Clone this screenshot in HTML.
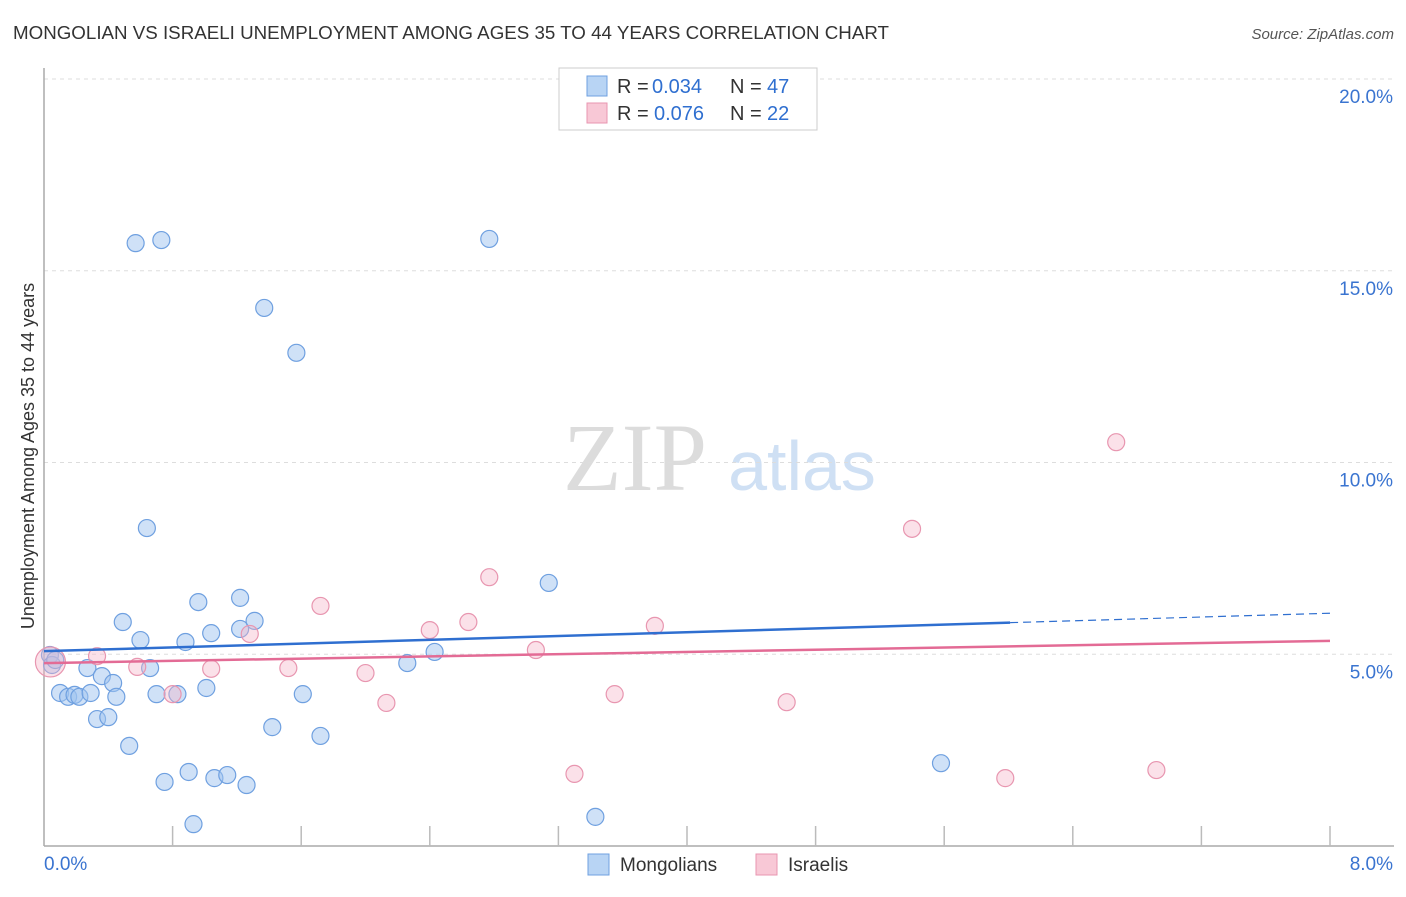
<!DOCTYPE html>
<html><head><meta charset="utf-8"><style>
body{margin:0;background:#fff;font-family:"Liberation Sans",sans-serif}
</style></head><body>
<svg id="chart" width="1406" height="892" viewBox="0 0 1406 892" xmlns="http://www.w3.org/2000/svg" font-family="Liberation Sans, sans-serif">
<text x="13" y="39" font-size="18" fill="#333" textLength="876" lengthAdjust="spacingAndGlyphs">MONGOLIAN VS ISRAELI UNEMPLOYMENT AMONG AGES 35 TO 44 YEARS CORRELATION CHART</text>
<text x="1394" y="39" font-size="15" fill="#555" text-anchor="end" font-style="italic">Source: ZipAtlas.com</text>
<g>
<text x="635" y="490" font-size="96" fill="#dcdcdc" text-anchor="middle" style="font-family:'Liberation Serif',serif">ZIP</text>
<text x="802" y="490" font-size="70" fill="#cfe0f4" text-anchor="middle">atlas</text>
</g>
<g id="grid"></g>
<g id="axes"></g>
<g id="marks"></g>
<text transform="translate(34,456) rotate(-90)" font-size="18" fill="#333" text-anchor="middle">Unemployment Among Ages 35 to 44 years</text>
<g>
<rect x="559" y="68" width="258" height="62" fill="#fff" stroke="#ccc"/>
<rect x="587" y="76" width="20" height="20" fill="#b8d4f4" stroke="#6fa0e0"/>
<text x="617" y="93" font-size="20" fill="#333">R =</text>
<text x="652" y="93" font-size="20" fill="#2f6fd0">0.034</text>
<text x="730" y="93" font-size="20" fill="#333">N =</text>
<text x="767" y="93" font-size="20" fill="#2f6fd0">47</text>
<rect x="587" y="103" width="20" height="20" fill="#f8c8d6" stroke="#e896b0"/>
<text x="617" y="120" font-size="20" fill="#333">R =</text>
<text x="654" y="120" font-size="20" fill="#2f6fd0">0.076</text>
<text x="730" y="120" font-size="20" fill="#333">N =</text>
<text x="767" y="120" font-size="20" fill="#2f6fd0">22</text>
</g>
<g>
<rect x="588" y="854" width="21" height="21" fill="#b8d4f4" stroke="#6fa0e0"/>
<text x="620" y="871" font-size="19" fill="#333">Mongolians</text>
<rect x="756" y="854" width="21" height="21" fill="#f8c8d6" stroke="#e896b0"/>
<text x="788" y="871" font-size="19" fill="#333">Israelis</text>
</g>
</svg>
<script>
const blueX=[0.037,0.05,0.10,0.15,0.19,0.22,0.29,0.27,0.33,0.36,0.40,0.43,0.45,0.49,0.53,0.60,0.64,0.66,0.70,0.75,0.83,0.88,0.90,0.93,0.96,1.01,1.04,1.06,1.14,1.22,1.22,1.26,1.31,1.37,1.42,1.57,1.61,1.72,0.57,0.73,2.26,2.43,2.77,3.14,3.43,5.58,0.07];
const blueY=[4.98,4.72,3.99,3.89,3.94,3.89,3.99,4.64,3.31,4.43,3.36,4.25,3.89,5.84,2.61,5.37,8.29,4.64,3.96,1.67,3.96,5.32,1.93,0.57,6.36,4.12,5.55,1.77,1.85,6.47,5.66,1.59,5.87,14.03,3.10,12.86,3.96,2.87,15.72,15.80,4.77,5.06,15.83,6.86,0.76,2.16,4.85];
const pinkX=[0.04,0.33,0.58,0.80,1.04,1.28,1.52,1.72,2.00,2.13,2.40,2.64,2.77,3.06,3.30,3.55,3.80,4.62,5.40,5.98,6.67,6.92];
const pinkY=[4.80,4.95,4.67,3.96,4.62,5.53,4.64,6.26,4.51,3.73,5.63,5.84,7.01,5.11,1.88,3.96,5.74,3.75,8.27,1.77,10.53,1.98];
const blueTrend=[5.08,6.07];
const pinkTrend=[4.77,5.35];
const yTicks=[5,10,15,20];
const yTickLabels=["5.0%","10.0%","15.0%","20.0%"];
const xTicks=[0,0.8,1.6,2.4,3.2,4.0,4.8,5.6,6.4,7.2,8.0];
const NS="http://www.w3.org/2000/svg";
const X=v=>44+v/8*1286, Y=v=>846-v*38.35;
function mk(tag,attrs,parent){const e=document.createElementNS(NS,tag);for(const k in attrs)e.setAttribute(k,attrs[k]);document.getElementById(parent).appendChild(e);return e;}
yTicks.forEach((t,i)=>{
 const g=mk('line',{x1:44,x2:1394,y1:Y(t),y2:Y(t),stroke:'#ddd','stroke-dasharray':'4,4'},'grid');
 
 
 const l=mk('text',{x:1393,y:Y(t)+24,'font-size':19,fill:'#3a74d0','text-anchor':'end'},'grid');
 l.textContent=yTickLabels[i];
 
 
});
const ax=mk('line',{x1:44,x2:44,y1:68,y2:846,stroke:'#aaa','stroke-width':1.5},'axes');


const bx=mk('line',{x1:44,x2:1394,y1:846,y2:846,stroke:'#aaa','stroke-width':1.5},'axes');


xTicks.slice(1).forEach(t=>{
 const k=mk('line',{x1:X(t),x2:X(t),y1:826,y2:846,stroke:'#bbb','stroke-width':1.5},'axes');
 
 
});
const x0=mk('text',{x:44,y:870,'font-size':19,fill:'#3a74d0'},'axes');x0.textContent="0.0%";


const x8=mk('text',{x:1393,y:870,'font-size':19,fill:'#3a74d0','text-anchor':'end'},'axes');x8.textContent="8.0%";


blueX.forEach((v,i)=>{
 const c=mk('circle',{cx:X(v),cy:Y(blueY[i]),r:8.5,fill:'rgba(160,196,240,0.5)',stroke:'#6fa0e0','stroke-width':1.2},'marks');
 
 
});
pinkX.forEach((v,i)=>{
 const c=mk('circle',{cx:X(v),cy:Y(pinkY[i]),r:i===0?15:8.5,fill:'rgba(245,180,200,0.4)',stroke:'#e896b0','stroke-width':1.2},'marks');
 
 
});
const bEnd=6.01, bAt=blueTrend[0]+(blueTrend[1]-blueTrend[0])*bEnd/8;
const t1=mk('line',{x1:X(0),y1:Y(blueTrend[0]),x2:X(bEnd),y2:Y(bAt),stroke:'#2f6fd0','stroke-width':2.5},'marks');


const t2=mk('line',{x1:X(bEnd),y1:Y(bAt),x2:X(8),y2:Y(blueTrend[1]),stroke:'#2f6fd0','stroke-width':1.2,'stroke-dasharray':'8,5'},'marks');


const t3=mk('line',{x1:X(0),y1:Y(pinkTrend[0]),x2:X(8),y2:Y(pinkTrend[1]),stroke:'#e36b95','stroke-width':2.5},'marks');


</script>
</body></html>
